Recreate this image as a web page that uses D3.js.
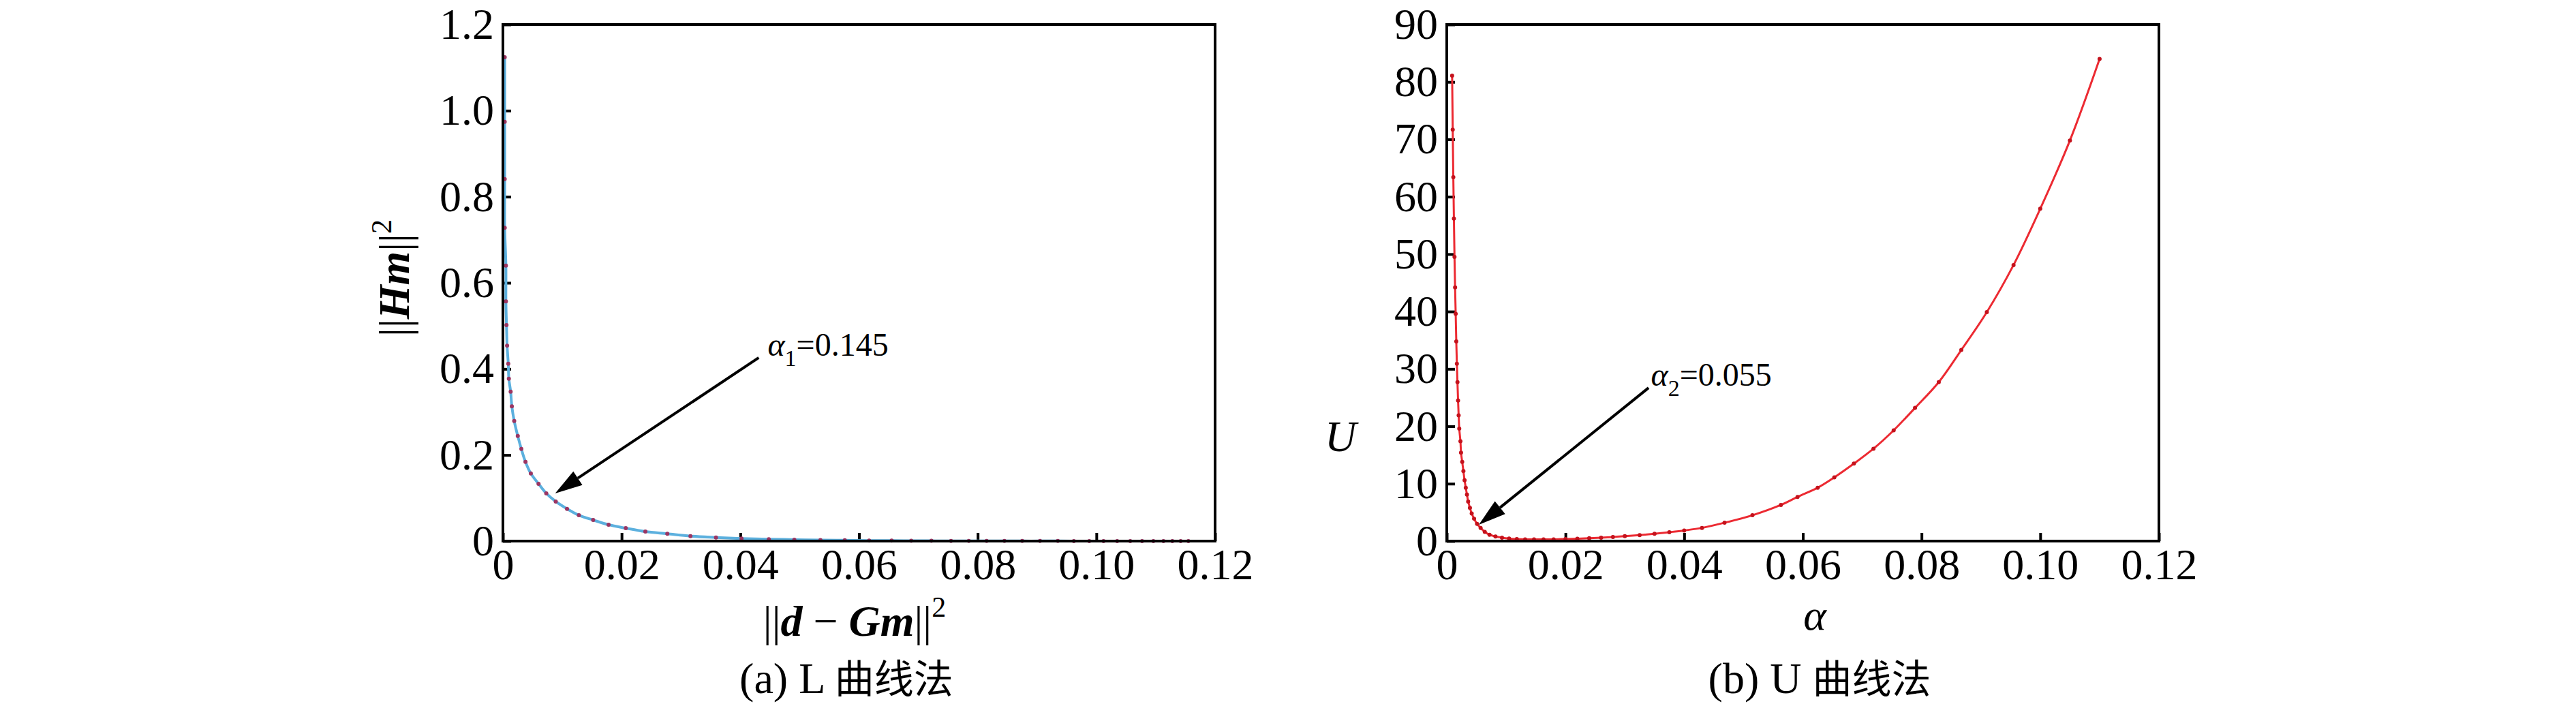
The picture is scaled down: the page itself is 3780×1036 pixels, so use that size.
<!DOCTYPE html>
<html>
<head>
<meta charset="utf-8">
<script src="https://cdn.jsdelivr.net/npm/d3@7"></script>
<style>
  html, body { margin: 0; padding: 0; background: #fff; }
  svg { display: block; }
</style>
</head>
<body>
<script>
// ---------------- DATA ----------------
// (a) L-curve: residual norm ||d-Gm||^2 (x) vs solution norm ||Hm||^2 (y)
const lResidual = [0.0003,0.0003,0.0003,0.0003,0.0005,0.0005,0.0006,0.0007,0.0009,0.0010,
  0.0013,0.0015,0.0019,0.0025,0.0031,0.0038,0.0047,0.0060,0.0073,0.0089,
  0.0108,0.0128,0.0152,0.0178,0.0207,0.0240,0.0277,0.0316,0.0359,0.0402,
  0.0448,0.0491,0.0535,0.0576,0.0617,0.0655,0.0688,0.0722,0.0755,0.0785,
  0.0815,0.0845,0.0875,0.0905,0.0935,0.0962,0.0988,0.1012,0.1035,0.1057,
  0.1077,0.1096,0.1113,0.1128,0.1142,0.1155];
const lNorm = [1.124,0.974,0.841,0.728,0.640,0.557,0.502,0.454,0.412,0.377,
  0.347,0.313,0.279,0.244,0.214,0.184,0.157,0.133,0.111,0.092,
  0.075,0.060,0.049,0.038,0.030,0.022,0.017,0.0116,0.0085,0.0060,
  0.0045,0.0033,0.0024,0.0018,0.0013,0.0010,0.0008,0.0006,0.0005,0.0004,
  0.0003,0.0003,0.0002,0.0002,0.0002,0.0001,0.0001,0.0001,0.0001,0.0001,
  0.0001,0.0001,0.0001,0.0,0.0,0.0];

// (b) U-curve: alpha (x) vs U (y)
const uAlpha = [0.0009,0.0010,0.0011,0.0012,0.0013,0.0014,0.0015,0.0016,0.0017,0.0018,
  0.0019,0.0020,0.0021,0.0023,0.0024,0.0026,0.0028,0.0030,0.0032,0.0034,
  0.0036,0.0039,0.0042,0.0046,0.0051,0.0057,0.0064,0.0072,0.0082,0.0093,
  0.0105,0.0118,0.0132,0.0147,0.0163,0.0180,0.0200,0.0220,0.0240,0.0260,
  0.0280,0.0300,0.0325,0.0350,0.0375,0.0400,0.0430,0.0468,0.0515,0.0563,
  0.0591,0.0625,0.0653,0.0686,0.0719,0.0753,0.0789,0.0829,0.0867,0.0910,
  0.0955,0.1000,0.1050,0.1100];
const uValue = [81.1,71.7,63.4,56.2,49.5,44.2,39.6,34.8,30.9,27.7,
  24.5,21.9,19.6,17.4,15.4,13.8,12.2,10.6,9.3,8.1,
  6.9,5.8,4.8,3.9,3.0,2.3,1.6,1.1,0.8,0.6,
  0.45,0.36,0.31,0.29,0.29,0.31,0.36,0.42,0.50,0.60,
  0.72,0.86,1.05,1.28,1.55,1.85,2.3,3.2,4.5,6.3,
  7.7,9.3,11.1,13.5,16.1,19.3,23.2,27.7,33.3,39.9,
  48.1,57.9,69.8,84.0];

// ticks
const xTickValues = [0,0.02,0.04,0.06,0.08,0.10,0.12];
const lYTickValues = [0,0.2,0.4,0.6,0.8,1.0,1.2];
const uYTickValues = [0,10,20,30,40,50,60,70,80,90];

// annotations: [textX, textY, arrowFromX, arrowFromY, arrowToX, arrowToY]
const lAnnot = [0.0446, 0.431, 0.0431, 0.426, 0.0088, 0.111];
const uAnnot = [0.0344, 27.1, 0.0340, 26.7, 0.0054, 2.85];
const lAnnotValue = "=0.145";
const uAnnotValue = "=0.055";

// ---------------- DRAW ----------------
const W = 3780, H = 1036;
const SERIF = "'Liberation Serif','Times New Roman',serif";
const CJK = "'Noto Sans CJK SC','Noto Sans CJK JP',sans-serif";

const svg = d3.select("body").append("svg")
  .attr("width", W).attr("height", H)
  .attr("viewBox", `0 0 ${W} ${H}`);
svg.append("rect").attr("width", W).attr("height", H).attr("fill", "#fff");

const yTop = 36, yBot = 794;

function panel(opt) {
  const x = d3.scaleLinear().domain([0, 0.12]).range([opt.x0, opt.x1]);
  const y = d3.scaleLinear().domain([0, opt.yMax]).range([yBot, yTop]);
  const g = svg.append("g");

  // x axis
  const xAxis = d3.axisBottom(x).tickValues(xTickValues)
    .tickSizeInner(-12).tickSizeOuter(0).tickPadding(11)
    .tickFormat(d => d === 0 ? "0" : d3.format(".2f")(d));
  const gx = g.append("g").attr("transform", `translate(0,${yBot})`).call(xAxis);
  // y axis
  const yAxis = d3.axisLeft(y).tickValues(opt.yTicks)
    .tickSizeInner(-12).tickSizeOuter(0).tickPadding(13)
    .tickFormat(opt.yFormat);
  const gy = g.append("g").attr("transform", `translate(${opt.x0},0)`).call(yAxis);

  [gx, gy].forEach(a => {
    a.select(".domain").remove();
    a.selectAll(".tick line").attr("stroke", "#000").attr("stroke-width", 4);
    a.selectAll(".tick text").attr("font-family", SERIF).attr("font-size", 64).attr("fill", "#000");
  });

  // curve
  const pts = opt.xs.map((v, i) => [v, opt.ys[i]]);
  const line = d3.line().x(d => x(d[0])).y(d => y(d[1])).curve(d3.curveCatmullRom.alpha(0.5));
  g.append("path").attr("d", line(pts)).attr("fill", "none")
    .attr("stroke", opt.lineColor).attr("stroke-width", opt.lineWidth)
    .attr("stroke-linejoin", "round").attr("stroke-linecap", "round");
  g.append("g").selectAll("circle").data(pts).join("circle")
    .attr("cx", d => x(d[0])).attr("cy", d => y(d[1])).attr("r", 3)
    .attr("fill", opt.dotColor);

  // frame
  g.append("rect").attr("x", opt.x0).attr("y", yTop)
    .attr("width", opt.x1 - opt.x0).attr("height", yBot - yTop)
    .attr("fill", "none").attr("stroke", "#000").attr("stroke-width", 4);

  // annotation arrow
  const a = opt.annot;
  const fx = x(a[2]), fy = y(a[3]), tx = x(a[4]), ty = y(a[5]);
  const ang = Math.atan2(ty - fy, tx - fx);
  const hl = 40, hw = 12;
  const bx = tx - hl * Math.cos(ang), by = ty - hl * Math.sin(ang);
  g.append("line").attr("x1", fx).attr("y1", fy).attr("x2", bx).attr("y2", by)
    .attr("stroke", "#000").attr("stroke-width", 4);
  g.append("path").attr("d", d3.line()([
      [tx, ty],
      [bx + hw * Math.sin(ang), by - hw * Math.cos(ang)],
      [bx - hw * Math.sin(ang), by + hw * Math.cos(ang)]
    ]) + "Z").attr("fill", "#000");
  const at = g.append("text").attr("x", x(a[0])).attr("y", y(a[1]))
    .attr("font-family", SERIF).attr("font-size", 48).attr("fill", "#000");
  at.append("tspan").attr("font-style", "italic").text("α");
  at.append("tspan").attr("font-size", 34).attr("dy", 15).text(opt.sub);
  at.append("tspan").attr("dy", -15).text(opt.annotText);

  return { x, y, g };
}

// (a) L curve
const pa = panel({
  x0: 738, x1: 1783, yMax: 1.2, yTicks: lYTickValues,
  yFormat: d => d === 0 ? "0" : d3.format(".1f")(d),
  xs: lResidual, ys: lNorm, lineColor: "#5cb0de", lineWidth: 4, dotColor: "#9b3562",
  annot: lAnnot, sub: "1", annotText: lAnnotValue
});

// (b) U curve
const pb = panel({
  x0: 2123, x1: 3168, yMax: 90, yTicks: uYTickValues,
  yFormat: d => String(d),
  xs: uAlpha, ys: uValue, lineColor: "#ec2a32", lineWidth: 3, dotColor: "#c4121c",
  annot: uAnnot, sub: "2", annotText: uAnnotValue
});

// ---- axis titles ----
// left y label ||Hm||^2 (rotated)
const yl = svg.append("text")
  .attr("transform", "translate(600,408) rotate(-90)")
  .attr("text-anchor", "middle").attr("font-family", SERIF).attr("font-size", 64).attr("fill", "#000");
yl.append("tspan").text("||");
yl.append("tspan").attr("font-weight", "bold").attr("font-style", "italic").text("Hm");
yl.append("tspan").text("||");
yl.append("tspan").attr("font-size", 42).attr("dy", -26).text("2");

// left x label ||d - Gm||^2
const xl = svg.append("text").attr("x", 1254).attr("y", 933)
  .attr("text-anchor", "middle").attr("font-family", SERIF).attr("font-size", 64).attr("fill", "#000");
xl.append("tspan").text("||");
xl.append("tspan").attr("font-weight", "bold").attr("font-style", "italic").text("d");
xl.append("tspan").text(" − ");
xl.append("tspan").attr("font-weight", "bold").attr("font-style", "italic").text("Gm");
xl.append("tspan").text("||");
xl.append("tspan").attr("font-size", 42).attr("dy", -28).text("2");

// right y label U
svg.append("text").attr("x", 1967).attr("y", 662)
  .attr("text-anchor", "middle").attr("font-family", SERIF).attr("font-size", 64)
  .attr("font-style", "italic").attr("fill", "#000").text("U");

// right x label alpha
svg.append("text").attr("x", 2663).attr("y", 924)
  .attr("text-anchor", "middle").attr("font-family", SERIF).attr("font-size", 64)
  .attr("font-style", "italic").attr("fill", "#000").text("α");

// captions
function caption(cx, label, letter) {
  const t = svg.append("text").attr("x", cx).attr("y", 1017)
    .attr("text-anchor", "middle").attr("font-family", SERIF).attr("font-size", 64).attr("fill", "#000");
  t.append("tspan").text(label + " " + letter + " ");
  t.append("tspan").attr("font-family", CJK).attr("font-size", 58).text("曲线法");
}
caption(1242, "(a)", "L");
caption(2670, "(b)", "U");
</script>
</body>
</html>
